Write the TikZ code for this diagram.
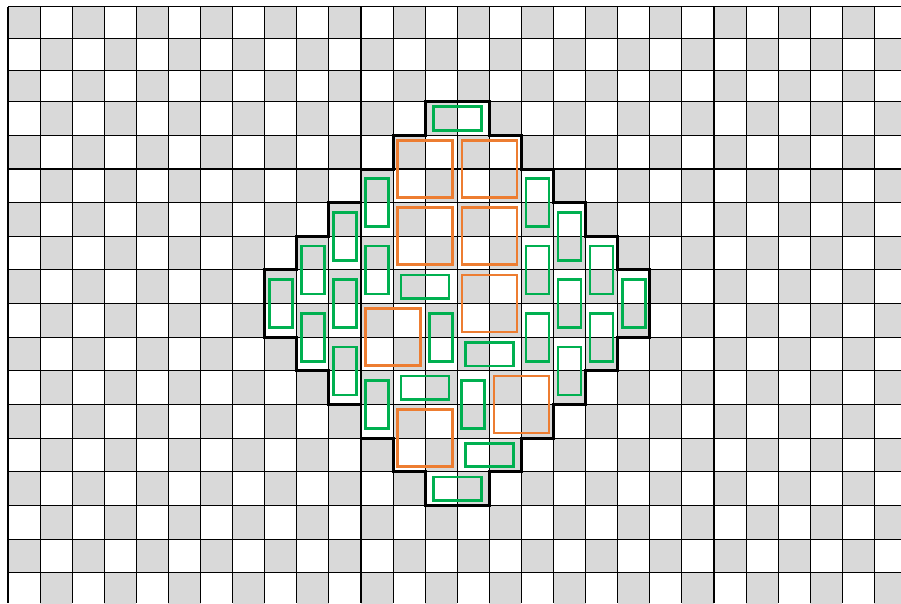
\documentclass[tikz,border=0pt]{standalone}
\usepackage{amsmath}

\definecolor{cellgray}{RGB}{217,217,217}
\definecolor{domgreen}{RGB}{0,176,80}
\definecolor{sqorange}{RGB}{237,125,49}

% position des lignes de la grille (en pixels)
\tikzset{declare function={cx(\idx)=8+32.09*\idx;
  ry(\idx)=(\idx<3)*(6.7+31.67*\idx)+(\idx>=3)*(101.7+33.65*(\idx-3));}}

% domino vertical (colonne #1, lignes #2 et #2+1)
\newcommand{\vdom}[2]{\draw[domino] ({cx(#1+0.5)-11.5},{(ry(#2)+ry(#2+2))/2-24}) rectangle ++(23,48);}
% domino horizontal (colonnes #1 et #1+1, ligne #2)
\newcommand{\hdom}[2]{\draw[domino] ({cx(#1+1)-24},{(ry(#2)+ry(#2+1))/2-11.75}) rectangle ++(48,23.5);}
% carre 2x2
\newcommand{\sqbox}[2]{\draw[square] ({cx(#1+1)-27.5},{(ry(#2)+ry(#2+2))/2-28.5}) rectangle ++(55,57);}

\begin{document}
\begin{tikzpicture}[x=0.02cm, y=-0.02cm,
    cell/.style={fill=cellgray},
    gridline/.style={black, line width=0.6pt},
    outline/.style={black, line width=1.7pt, line join=miter},
    domino/.style={domgreen, line width=1.5pt},
    square/.style={sqorange, line width=1.5pt}]
    \useasboundingbox (0,0) rectangle (901,603);
    \clip (0,0) rectangle (901,603);

    % Damier
    \foreach \i in {0,...,27} {
        \foreach \j in {0,...,17} {
            \pgfmathparse{int(mod(\i+\j,2))}
            \ifnum\pgfmathresult=0
                \fill[cell] ({cx(\i)},{ry(\j)}) rectangle ({cx(\i+1)},{ry(\j+1)});
            \fi
        }
    }
    \foreach \i in {0,...,27}
        \draw[gridline] ({cx(\i)},{ry(0)}) -- ({cx(\i)},603);
    \foreach \j in {0,...,17}
        \draw[gridline] ({cx(0)},{ry(\j)}) -- (901,{ry(\j)});

    % Contour du diamant azteque
    \draw[outline] ({cx(13)},{ry(3)}) -- ({cx(15)},{ry(3)}) -- ({cx(15)},{ry(4)})
        -- ({cx(16)},{ry(4)}) -- ({cx(16)},{ry(5)}) -- ({cx(17)},{ry(5)}) -- ({cx(17)},{ry(6)})
        -- ({cx(18)},{ry(6)}) -- ({cx(18)},{ry(7)}) -- ({cx(19)},{ry(7)}) -- ({cx(19)},{ry(8)})
        -- ({cx(20)},{ry(8)}) -- ({cx(20)},{ry(10)}) -- ({cx(19)},{ry(10)}) -- ({cx(19)},{ry(11)})
        -- ({cx(18)},{ry(11)}) -- ({cx(18)},{ry(12)}) -- ({cx(17)},{ry(12)}) -- ({cx(17)},{ry(13)})
        -- ({cx(16)},{ry(13)}) -- ({cx(16)},{ry(14)}) -- ({cx(15)},{ry(14)}) -- ({cx(15)},{ry(15)})
        -- ({cx(13)},{ry(15)}) -- ({cx(13)},{ry(14)}) -- ({cx(12)},{ry(14)}) -- ({cx(12)},{ry(13)})
        -- ({cx(11)},{ry(13)}) -- ({cx(11)},{ry(12)}) -- ({cx(10)},{ry(12)}) -- ({cx(10)},{ry(11)})
        -- ({cx(9)},{ry(11)}) -- ({cx(9)},{ry(10)}) -- ({cx(8)},{ry(10)}) -- ({cx(8)},{ry(8)})
        -- ({cx(9)},{ry(8)}) -- ({cx(9)},{ry(7)}) -- ({cx(10)},{ry(7)}) -- ({cx(10)},{ry(6)})
        -- ({cx(11)},{ry(6)}) -- ({cx(11)},{ry(5)}) -- ({cx(12)},{ry(5)}) -- ({cx(12)},{ry(4)})
        -- ({cx(13)},{ry(4)}) -- cycle;

    % Carres 2x2
    \sqbox{12}{4} \sqbox{14}{4}
    \sqbox{12}{6} \sqbox{14}{6}
    \sqbox{14}{8} \sqbox{11}{9}
    \sqbox{15}{11} \sqbox{12}{12}

    % Dominos horizontaux
    \hdom{13}{3} \hdom{12}{8} \hdom{14}{10}
    \hdom{12}{11} \hdom{14}{13} \hdom{13}{14}

    % Dominos verticaux
    \foreach \c/\r in {11/5, 10/6, 11/7, 9/7, 8/8, 10/8, 9/9, 10/10, 11/11,
                       13/9, 14/11,
                       16/5, 17/6, 16/7, 18/7, 17/8, 19/8, 16/9, 18/9, 17/10}
        \vdom{\c}{\r};
\end{tikzpicture}
\end{document}
